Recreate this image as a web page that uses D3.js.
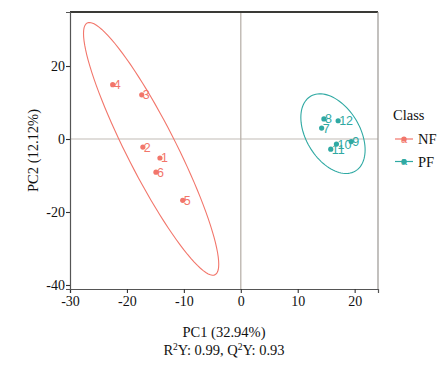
<!DOCTYPE html>
<html>
<head>
<meta charset="utf-8">
<script src="https://cdn.jsdelivr.net/npm/d3@7"></script>
<style>
  body { margin: 0; background: #fff; }
  svg { display: block; }
</style>
</head>
<body>
<div id="chart"></div>
<script>
// Données (scores PLS-DA)
const sampleIds = ["1", "2", "3", "4", "5", "6", "7", "8", "9", "10", "11", "12"];
const sampleClass = ["NF", "NF", "NF", "NF", "NF", "NF", "PF", "PF", "PF", "PF", "PF", "PF"];
const pc1 = [-14.2, -17.2, -17.4, -22.5, -10.2, -14.9, 14.2, 14.6, 19.4, 16.8, 15.8, 17.1];
const pc2 = [-5.2, -2.2, 12.1, 14.9, -16.8, -9.1, 3.0, 5.5, -0.7, -1.4, -2.8, 5.0];
const classes = ["NF", "PF"];
const classColors = ["#F2766B", "#2FA9A3"];
const xTicks = [-30, -20, -10, 0, 10, 20];
const yTicks = [-40, -20, 0, 20];

const width = 447, height = 375;
const margin = { top: 12, right: 69, bottom: 86, left: 70 };

const svg = d3.select("#chart").append("svg")
    .attr("width", width).attr("height", height);

const x = d3.scaleLinear().domain([-30, 24.1]).range([margin.left, width - margin.right]);
const y = d3.scaleLinear().domain([-41.1, 34.8]).range([height - margin.bottom, margin.top]);
const color = d3.scaleOrdinal(classes, classColors);

const points = sampleIds.map((id, i) => ({ id, cls: sampleClass[i], x: pc1[i], y: pc2[i] }));

// Ellipse de confiance 95% (comme stat_ellipse type "t" : cov.trob)
function covTrob(pts, nu = 5, maxit = 25, tol = 0.01) {
    const n = pts.length, p = 2;
    let loc = [d3.mean(pts, d => d[0]), d3.mean(pts, d => d[1])];
    let w = pts.map(() => 1);
    let X = [];
    for (let iter = 0; iter < maxit; iter++) {
        const w0 = w.slice();
        X = pts.map(d => [d[0] - loc[0], d[1] - loc[1]]);
        const sw = d3.sum(w);
        let a = 0, b = 0, c = 0;
        X.forEach((v, i) => { a += w[i] * v[0] * v[0] / sw; b += w[i] * v[0] * v[1] / sw; c += w[i] * v[1] * v[1] / sw; });
        const det = a * c - b * b;
        const Q = X.map(v => (c * v[0] * v[0] - 2 * b * v[0] * v[1] + a * v[1] * v[1]) / det);
        w = Q.map(q => (nu + p) / (nu + q));
        const sw2 = d3.sum(w);
        loc = [d3.sum(pts, (d, i) => w[i] * d[0]) / sw2, d3.sum(pts, (d, i) => w[i] * d[1]) / sw2];
        if (w.every((v, i) => Math.abs(v - w0[i]) < tol)) break;
    }
    let a = 0, b = 0, c = 0;
    X.forEach((v, i) => { a += w[i] * v[0] * v[0] / n; b += w[i] * v[0] * v[1] / n; c += w[i] * v[1] * v[1] / n; });
    return { center: loc, cov: [[a, b], [b, c]] };
}

function ellipsePath(pts) {
    const { center, cov } = covTrob(pts);
    // cholesky (triangulaire supérieure)
    const r11 = Math.sqrt(cov[0][0]);
    const r12 = cov[0][1] / r11;
    const r22 = Math.sqrt(cov[1][1] - r12 * r12);
    const fq = 5.786135; // qf(0.95, 2, 5)
    const radius = Math.sqrt(2 * fq);
    const out = [];
    for (let k = 0; k <= 100; k++) {
        const t = k * 2 * Math.PI / 100;
        const u = Math.cos(t), v = Math.sin(t);
        out.push([center[0] + radius * u * r11, center[1] + radius * (u * r12 + v * r22)]);
    }
    return out;
}

// Lignes zéro
svg.append("line")
    .attr("x1", margin.left).attr("x2", width - margin.right)
    .attr("y1", y(0)).attr("y2", y(0))
    .attr("stroke", "#d6d2ce").attr("stroke-width", 1.3);
svg.append("line")
    .attr("x1", x(0)).attr("x2", x(0))
    .attr("y1", margin.top).attr("y2", height - margin.bottom)
    .attr("stroke", "#b9b2ab").attr("stroke-width", 1.3);

// Ellipses
const line = d3.line().x(d => x(d[0])).y(d => y(d[1]));
classes.forEach(cl => {
    const pts = points.filter(d => d.cls === cl).map(d => [d.x, d.y]);
    svg.append("path")
        .attr("d", line(ellipsePath(pts)))
        .attr("fill", "none")
        .attr("stroke", color(cl))
        .attr("stroke-width", 1.1);
});

// Points et étiquettes
svg.append("g").selectAll("circle")
    .data(points)
    .enter().append("circle")
    .attr("cx", d => x(d.x)).attr("cy", d => y(d.y))
    .attr("r", 2.6)
    .attr("fill", d => color(d.cls));

svg.append("g").selectAll("text")
    .data(points)
    .enter().append("text")
    .attr("x", d => x(d.x) + 1)
    .attr("y", d => y(d.y))
    .attr("dy", "0.36em")
    .style("font-family", "'Liberation Sans', Arial, sans-serif")
    .style("font-size", "12.5px")
    .attr("fill", d => color(d.cls))
    .text(d => d.id);

// Bordures haut / droite
svg.append("line")
    .attr("x1", margin.left).attr("x2", width - margin.right)
    .attr("y1", margin.top).attr("y2", margin.top)
    .attr("stroke", "#3a3a36").attr("stroke-width", 2);
svg.append("line")
    .attr("x1", width - margin.right).attr("x2", width - margin.right)
    .attr("y1", margin.top).attr("y2", height - margin.bottom)
    .attr("stroke", "#9a9793").attr("stroke-width", 1.2);

// Axes
const fontSerif = "'Liberation Serif', 'Times New Roman', serif";
const xAxis = svg.append("g")
    .attr("transform", `translate(0,${height - margin.bottom})`)
    .call(d3.axisBottom(x).tickValues(xTicks).tickFormat(d => String(d)).tickSize(4).tickPadding(3));
const yAxis = svg.append("g")
    .attr("transform", `translate(${margin.left},0)`)
    .call(d3.axisLeft(y).tickValues(yTicks).tickFormat(d => String(d)).tickSize(4).tickPadding(1));
[xAxis, yAxis].forEach(g => {
    g.select(".domain").attr("stroke", "#555").attr("stroke-width", 1.2);
    g.selectAll(".tick line").attr("stroke", "#333").attr("stroke-width", 1.1);
    g.selectAll(".tick text")
        .style("font-family", fontSerif)
        .style("font-size", "14px")
        .attr("fill", "#111");
});

// Titres des axes
const xTitle = svg.append("text")
    .attr("x", (margin.left + width - margin.right) / 2)
    .attr("y", 337)
    .attr("text-anchor", "middle")
    .style("font-family", fontSerif).style("font-size", "14.5px")
    .attr("fill", "#111");
xTitle.append("tspan").text("PC1 (32.94%)");

const sub = svg.append("text")
    .attr("x", (margin.left + width - margin.right) / 2)
    .attr("y", 355)
    .attr("text-anchor", "middle")
    .style("font-family", fontSerif).style("font-size", "14.5px")
    .attr("fill", "#111");
sub.append("tspan").text("R");
sub.append("tspan").attr("dy", -5).style("font-size", "9.5px").text("2");
sub.append("tspan").attr("dy", 5).text("Y: 0.99, Q");
sub.append("tspan").attr("dy", -5).style("font-size", "9.5px").text("2");
sub.append("tspan").attr("dy", 5).text("Y: 0.93");

svg.append("text")
    .attr("transform", `translate(38,${(margin.top + height - margin.bottom) / 2}) rotate(-90)`)
    .attr("text-anchor", "middle")
    .style("font-family", fontSerif).style("font-size", "14.5px")
    .attr("fill", "#111")
    .text("PC2 (12.12%)");

// Légende
const legend = svg.append("g").attr("transform", "translate(393,0)");
legend.append("text")
    .attr("x", 0).attr("y", 120)
    .style("font-family", fontSerif).style("font-size", "14.5px")
    .attr("fill", "#111")
    .text("Class");
const keys = legend.selectAll("g.key")
    .data(classes)
    .enter().append("g")
    .attr("class", "key")
    .attr("transform", (d, i) => `translate(0,${139 + i * 22.5})`);
keys.append("line")
    .attr("x1", 2).attr("x2", 20).attr("y1", 0).attr("y2", 0)
    .attr("stroke", d => color(d)).attr("stroke-width", 1.2);
keys.append("circle")
    .attr("cx", 11).attr("cy", 0).attr("r", 2.6)
    .attr("fill", d => color(d));
keys.append("text")
    .attr("x", 11).attr("y", 0).attr("dy", "0.36em")
    .attr("text-anchor", "middle")
    .style("font-family", "'Liberation Sans', Arial, sans-serif")
    .style("font-size", "11px")
    .attr("fill", d => color(d))
    .text("a");
keys.append("text")
    .attr("x", 25).attr("y", 0).attr("dy", "0.36em")
    .style("font-family", fontSerif).style("font-size", "14.5px")
    .attr("fill", "#111")
    .text(d => d);
</script>
</body>
</html>
